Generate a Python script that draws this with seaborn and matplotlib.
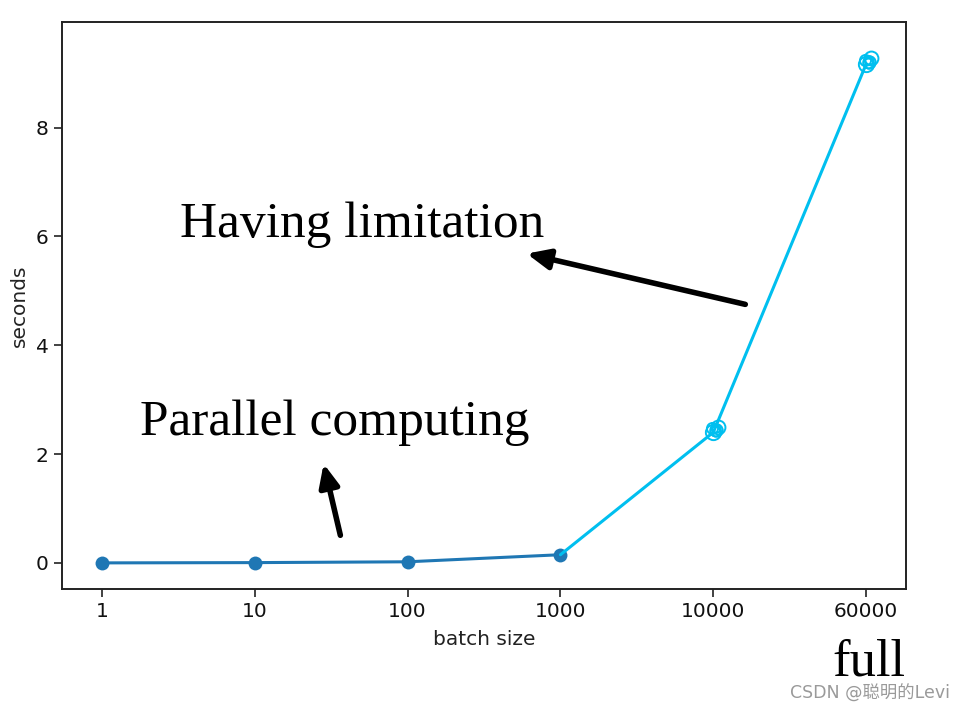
import matplotlib
matplotlib.use("Agg")
import matplotlib.pyplot as plt
import seaborn as sns
import pandas as pd

# data
batch_labels = ["1", "10", "100", "1000", "10000", "60000"]
seconds_low = [0.0, 0.005, 0.02, 0.15]          # batch 1..1000
seconds_high = [0.15, 2.4, 9.17]                # batch 1000..60000
annot_texts = ["Having limitation", "Parallel computing", "full"]
watermark = "CSDN @聪明的Levi"

sns.set_theme(style="ticks")
plt.rcParams['font.family'] = ['DejaVu Sans', 'Noto Sans CJK SC']

W, H = 966, 709
fig = plt.figure(figsize=(W / 100, H / 100), dpi=100)
ax = fig.add_axes([62 / W, 1 - 589 / H, (906 - 62) / W, (589 - 22) / H])

df_low = pd.DataFrame({"x": list(range(len(seconds_low))), "y": seconds_low})
df_high = pd.DataFrame({"x": list(range(3, 3 + len(seconds_high))), "y": seconds_high})

sns.lineplot(data=df_low, x="x", y="y", ax=ax, color="#1f77b4", lw=2.2,
             marker="o", markersize=10, markeredgewidth=0)
sns.lineplot(data=df_high, x="x", y="y", ax=ax, color="#00BFEF", lw=2.2)
# hand-drawn style scribbles on the last two points
hx = df_high["x"].iloc[1:].tolist()
hy = df_high["y"].iloc[1:].tolist()
for dx, dy, ms in [(0.0, 0.0, 11), (0.02, 0.04, 9), (-0.01, 0.07, 8), (0.03, 0.1, 10),
                   (0.01, 0.02, 7), (0.02, 0.08, 6)]:
    ax.plot([v + dx for v in hx], [v + dy for v in hy], ls="none", marker="o",
            markersize=ms, mfc="none", mec="#00BFEF", mew=1.4)

ax.set_xlim(-0.26, 5.26)
ax.set_ylim(-0.48, 9.94)
ax.set_xticks(range(len(batch_labels)))
ax.set_xticklabels(batch_labels)
ax.set_yticks([0, 2, 4, 6, 8])
ax.tick_params(labelsize=14.5, length=6, width=1.2, color="#222222", labelcolor="#111111")
ax.set_xlabel("batch size", fontsize=14.5, color="#222222", labelpad=6)
ax.set_ylabel("seconds", fontsize=14.5, color="#222222", labelpad=5)
for s in ax.spines.values():
    s.set_visible(True)
    s.set_color("#222222")
    s.set_linewidth(1.4)

def fx(px):
    return px / W

def fy(py):
    return 1 - py / H

serif = ['Liberation Serif', 'DejaVu Serif']
fig.text(fx(180), fy(237), annot_texts[0], fontsize=37, family=serif, color="black", va="baseline")
fig.text(fx(140), fy(435), annot_texts[1], fontsize=37, family=serif, color="black", va="baseline")
fig.text(fx(832), fy(676), annot_texts[2], fontsize=38, family=serif, color="black", va="baseline")

fig.patches.append(matplotlib.patches.FancyArrowPatch(
    (fx(748), fy(305)), (fx(524), fy(253)), transform=fig.transFigure,
    arrowstyle="-|>,head_length=9,head_width=4", mutation_scale=1.5,
    lw=4, color="black"))
fig.patches.append(matplotlib.patches.FancyArrowPatch(
    (fx(341), fy(538)), (fx(323), fy(461)), transform=fig.transFigure,
    arrowstyle="-|>,head_length=9,head_width=4", mutation_scale=1.5,
    lw=4, color="black"))

fig.text(fx(950), fy(699), watermark, fontsize=12.5, color="#9a9a9a", ha="right",
         va="baseline", family=['DejaVu Sans', 'Noto Sans CJK SC'])

fig.savefig("out.png", dpi=100)
